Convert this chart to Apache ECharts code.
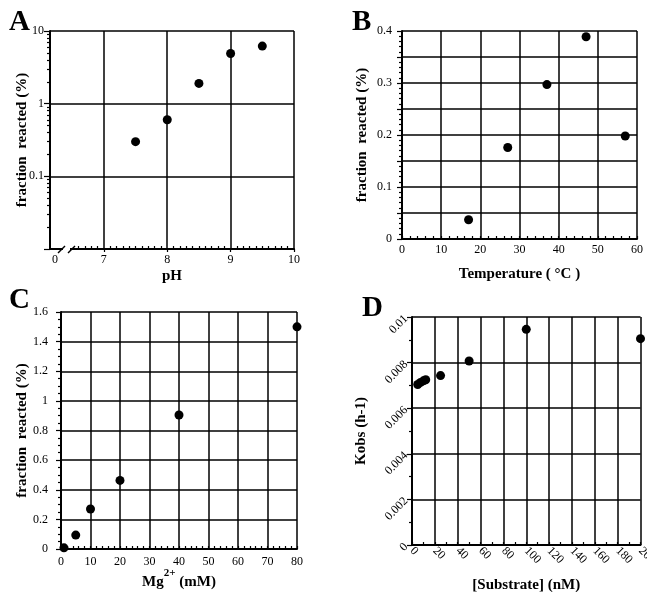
<!DOCTYPE html>
<html>
<head>
<meta charset="utf-8">
<script src="https://cdn.jsdelivr.net/npm/echarts@6/dist/echarts.min.js"></script>
<style>
html, body { margin: 0; padding: 0; background: #fff; }
#chart { width: 647px; height: 592px; }
</style>
</head>
<body>
<div id="chart"></div>
<script>
// A - pH
var phX = [7.5, 8, 8.5, 9, 9.5];
var phY = [0.3, 0.6, 1.9, 4.9, 6.2];
var phTicks = [7, 8, 9, 10];
var phLabels = [6.23, 7, 8, 9, 10]; // 6.23 is where the broken-axis "0" sits
// B - temperature
var tempX = [17, 27, 37, 47, 57];
var tempY = [0.037, 0.176, 0.297, 0.389, 0.198];
// C - Mg2+
var mgX = [1, 5, 10, 20, 40, 80];
var mgY = [0.008, 0.094, 0.27, 0.463, 0.905, 1.5];
// D - substrate
var subX = [5, 7.5, 10, 12, 25, 50, 100, 200];
var subY = [0.00704, 0.00713, 0.0072, 0.00725, 0.00743, 0.00807, 0.00946, 0.00905];

var font = 'Liberation Serif';

function pairs(xs, ys) {
    var out = [];
    for (var i = 0; i < xs.length; i++) out.push([xs[i], ys[i]]);
    return out;
}

function merge(a, b) {
    var r = {};
    for (var k in a) r[k] = a[k];
    for (var k in b) {
        if (b[k] && typeof b[k] === 'object' && !Array.isArray(b[k]) && typeof b[k] !== 'function'
            && r[k] && typeof r[k] === 'object') {
            r[k] = merge(r[k], b[k]);
        } else {
            r[k] = b[k];
        }
    }
    return r;
}

var axisBase = {
    type: 'value',
    nameLocation: 'middle',
    nameMoveOverlap: false,
    nameTextStyle: { color: '#000', fontFamily: font, fontSize: 15, fontWeight: 'bold' },
    axisLine: { show: true, onZero: false, lineStyle: { color: '#000', width: 2 } },
    axisTick: { show: true, inside: true, length: 3, lineStyle: { color: '#000', width: 1.2 } },
    minorTick: { show: false, length: 3, lineStyle: { color: '#000', width: 1.2 } },
    axisLabel: { color: '#000', fontFamily: font, fontSize: 12, margin: 5 },
    splitLine: { show: true, lineStyle: { color: '#000', width: 1.5 } }
};

function ax(o) { return merge(axisBase, o); }

// minor ticks of panel A x axis (between the break and 10)
var phMinor = [];
for (var t = 66; t < 100; t++) if (t % 10 !== 0) phMinor.push(t / 10);
// minor ticks of panel A log axis (2..9 in each decade)
var logMinor = [];
[0.01, 0.1, 1].forEach(function (d) {
    for (var k = 2; k <= 9; k++) logMinor.push(+(d * k).toPrecision(3));
});

var yTick = { inside: false, length: 5 };

var dot = {
    type: 'scatter', symbol: 'circle', symbolSize: 9,
    itemStyle: { color: '#000', opacity: 1 }, clip: false, z: 5, silent: true
};

var option = {
    animation: false,
    grid: [
        { left: 50, top: 31, width: 244, height: 218, outerBoundsMode: 'none' },
        { left: 402, top: 31, width: 235, height: 208, outerBoundsMode: 'none' },
        { left: 61, top: 312, width: 236, height: 237, outerBoundsMode: 'none' },
        { left: 412, top: 317, width: 228.5, height: 228, outerBoundsMode: 'none' }
    ],
    xAxis: [
        ax({
            gridIndex: 0, position: 'bottom', min: 6.15, max: 10,
            name: 'pH', nameGap: 20,
            axisTick: { inside: false, customValues: phTicks },
            axisLabel: { customValues: phLabels, formatter: function (v) { return v < 7 ? '0' : String(v); } },
            splitLine: { show: false }
        }),
        ax({
            gridIndex: 0, position: 'bottom', min: 6.15, max: 10,
            axisLine: { show: false },
            axisTick: { customValues: phMinor },
            axisLabel: { show: false },
            splitLine: { show: false }
        }),
        ax({
            gridIndex: 1, min: 0, max: 60, interval: 10,
            name: 'Temperature ( \u00B0C )', nameGap: 28,
            minorTick: { show: true, splitNumber: 5 }
        }),
        ax({
            gridIndex: 2, min: 0, max: 80, interval: 10,
            name: '{t|Mg}{s|2+}{t| (mM)}', nameGap: 19,
            nameTextStyle: {
                rich: {
                    t: { fontFamily: font, fontSize: 15, fontWeight: 'bold', color: '#000', verticalAlign: 'bottom' },
                    s: { fontFamily: font, fontSize: 11, fontWeight: 'bold', color: '#000', verticalAlign: 'top', lineHeight: 22 }
                }
            },
            axisLabel: { margin: 7 },
            minorTick: { show: true, splitNumber: 5 }
        }),
        ax({
            gridIndex: 3, min: 0, max: 200, interval: 20,
            name: '[Substrate] (nM)', nameGap: 33,
            axisLabel: { rotate: -45, margin: 4 },
            minorTick: { show: true, splitNumber: 2 }
        })
    ],
    yAxis: [
        ax({
            gridIndex: 0, type: 'log', logBase: 10, min: 0.01, max: 10,
            name: 'fraction  reacted (%)', nameGap: 20,
            axisTick: { inside: false, length: 6 },
            axisLabel: { margin: 6, formatter: function (v) { return v < 0.05 ? '' : String(v); } }
        }),
        ax({
            gridIndex: 0, type: 'log', logBase: 10, min: 0.01, max: 10, position: 'left',
            axisLine: { show: false },
            axisTick: { inside: false, length: 3, customValues: logMinor },
            axisLabel: { show: false },
            splitLine: { show: false }
        }),
        ax({
            gridIndex: 1, min: 0, max: 0.4, interval: 0.05,
            name: 'fraction  reacted (%)', nameGap: 32,
            axisTick: yTick,
            axisLabel: { margin: 10, formatter: function (v) {
                return Math.round(v * 100) % 10 === 0 ? String(+v.toFixed(2)) : '';
            } },
            minorTick: { show: true, splitNumber: 5 }
        }),
        ax({
            gridIndex: 2, min: 0, max: 1.6, interval: 0.2,
            name: 'fraction  reacted (%)', nameGap: 31,
            axisTick: yTick,
            axisLabel: { margin: 13, formatter: function (v) { return String(+v.toFixed(2)); } },
            minorTick: { show: true, splitNumber: 4 }
        }),
        ax({
            gridIndex: 3, min: 0, max: 0.01, interval: 0.002,
            name: 'Kobs (h-1)', nameGap: 43,
            axisTick: yTick,
            axisLabel: { rotate: 45, margin: 6, formatter: function (v) { return String(+v.toFixed(4)); } },
            minorTick: { show: true, splitNumber: 2 }
        })
    ],
    series: [
        merge(dot, {
            xAxisIndex: 0, yAxisIndex: 0, data: pairs(phX, phY),
            markLine: {
                silent: true, symbol: ['none', 'none'], label: { show: false },
                lineStyle: { color: '#000', type: 'solid', width: 1.5 },
                data: phTicks.map(function (v) { return { xAxis: v }; })
            }
        }),
        merge(dot, { xAxisIndex: 2, yAxisIndex: 2, data: pairs(tempX, tempY) }),
        merge(dot, { xAxisIndex: 3, yAxisIndex: 3, data: pairs(mgX, mgY) }),
        merge(dot, { xAxisIndex: 4, yAxisIndex: 4, data: pairs(subX, subY) })
    ],
    graphic: [
        { type: 'text', left: 9, top: 8, style: { text: 'A', font: 'bold 29px "Liberation Serif"', fill: '#000' } },
        { type: 'text', left: 352, top: 8, style: { text: 'B', font: 'bold 29px "Liberation Serif"', fill: '#000' } },
        { type: 'text', left: 9, top: 286, style: { text: 'C', font: 'bold 29px "Liberation Serif"', fill: '#000' } },
        { type: 'text', left: 362, top: 294, style: { text: 'D', font: 'bold 29px "Liberation Serif"', fill: '#000' } },
        // axis break on panel A
        { type: 'rect', z: 100, shape: { x: 63, y: 246, width: 7, height: 6 }, style: { fill: '#fff' } },
        { type: 'line', z: 101, shape: { x1: 58, y1: 253, x2: 65, y2: 246 }, style: { stroke: '#000', lineWidth: 1.5 } },
        { type: 'line', z: 101, shape: { x1: 68, y1: 253, x2: 75, y2: 246 }, style: { stroke: '#000', lineWidth: 1.5 } }
    ]
};

var myChart = echarts.init(document.getElementById('chart'));
myChart.setOption(option);
</script>
</body>
</html>
